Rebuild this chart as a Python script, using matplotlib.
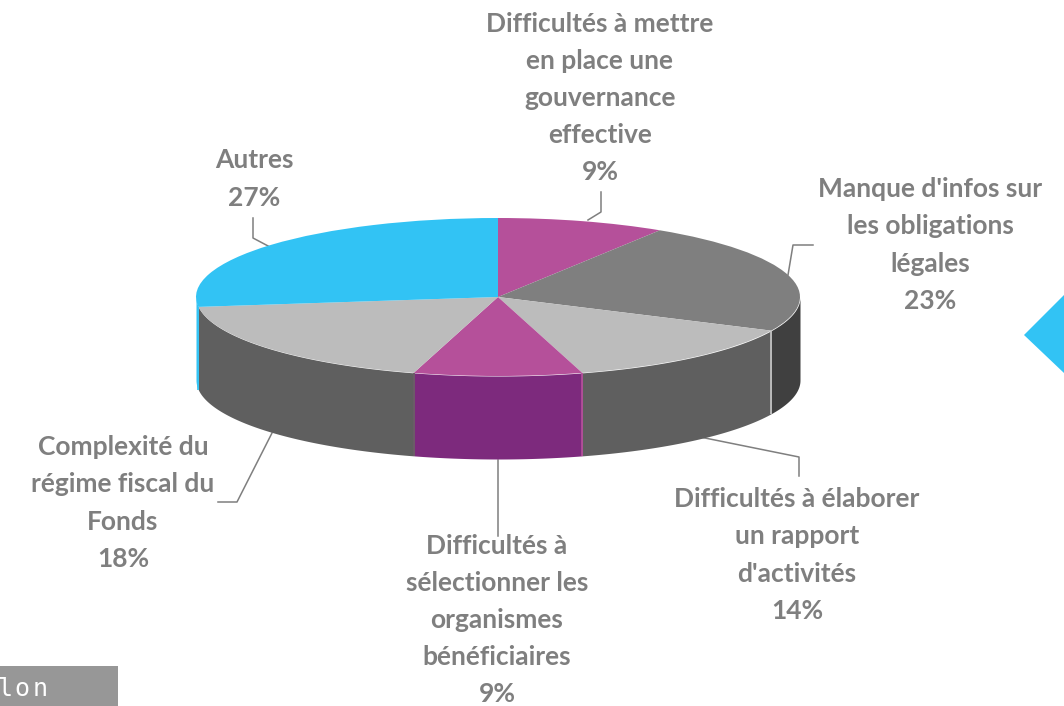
import numpy as np
import matplotlib
matplotlib.use("Agg")
import matplotlib.pyplot as plt

plt.rcParams['font.family'] = ['Lato', 'DejaVu Sans']

categories = ["Difficultés à mettre\nen place une\ngouvernance\neffective",
              "Manque d'infos sur\nles obligations\nlégales",
              "Difficultés à élaborer\nun rapport\nd'activités",
              "Difficultés à\nsélectionner les\norganismes\nbénéficiaires",
              "Complexité du\nrégime fiscal du\nFonds",
              "Autres"]
values = [9, 23, 13.5, 9, 18.5, 27]
pct_labels = ["9%", "23%", "14%", "9%", "18%", "27%"]
top_colors = ["#b5509a", "#7f7f7f", "#bcbcbc", "#b5509a", "#bcbcbc", "#32c3f4"]
side_colors = ["#7d2a7d", "#404040", "#5f5f5f", "#7d2a7d", "#5f5f5f", "#32c3f4"]
edge_colors = ["#b5509a", "#c8c8c8", "#c8c8c8", "#b5509a", "#5f5f5f", "#32c3f4"]

W, H = 1064, 706
label_pos = [(600, 98), (930, 245), (797, 555), (497, 620), (123, 503), (254, 179)]
leaders = [[(588, 220), (601, 212), (601, 192)],
           [(788, 275), (793, 245), (813, 245)],
           [(700, 437), (799, 457), (799, 476)],
           [(498, 460), (498, 536)],
           [(272, 433), (237, 502), (218, 502)],
           [(270, 247), (253, 238), (253, 218)]]

fig = plt.figure(figsize=(W / 100, H / 100), dpi=100)

# pixel axes for the text and lines
bg = fig.add_axes([0, 0, 1, 1])
bg.set_xlim(0, W)
bg.set_ylim(H, 0)
bg.axis('off')

cx, cy, rx, ry, depth = 498, 297, 302, 79, 83
top_px, bot_px = cy - ry, cy + ry + depth + 6
ax = fig.add_axes([(cx - rx) / W, 1 - bot_px / H, 2 * rx / W, (bot_px - top_px) / H])

# side walls first, pie on top
d = depth / ry
start = 0
for v, c, e in zip(values, side_colors, edge_colors):
    a0, a1 = start, start + v * 3.6
    start = a1
    lo, hi = max(a0, 90), min(a1, 270)
    if lo >= hi:
        continue
    t = np.radians(np.linspace(lo, hi, 80))
    x, y = np.sin(t), np.cos(t)
    ax.fill_between(x, y, y - d, color=c, lw=0)
    if a0 >= 90:
        ax.plot([x[0], x[0]], [y[0], y[0] - d], color=e, lw=1.2, solid_capstyle='butt')
    if c == "#7d2a7d":
        ax.plot([x[-1], x[-1]], [y[-1], y[-1] - d], color=e, lw=1.2, solid_capstyle='butt')

ax.pie(values, colors=top_colors, startangle=90, counterclock=False, radius=1)
ax.set_aspect('auto')
ax.set_xlim(-1, 1)
ax.set_ylim(-(bot_px - cy) / ry, 1)
ax.axis('off')

for pts in leaders:
    bg.plot([p[0] for p in pts], [p[1] for p in pts], color="#7f7f7f", lw=1.1)

for cat, p, (x, y) in zip(categories, pct_labels, label_pos):
    bg.text(x, y, cat + "\n" + p, ha='center', va='center', color="#7f7f7f",
            fontsize=19, fontweight='bold', linespacing=1.66, multialignment='center')

# cut off bits of the slide
bg.fill([1024, 1064, 1064], [335, 295, 373], color="#32c3f4", lw=0)
bg.fill([0, 118, 118, 0], [666, 666, 706, 706], color="#979797", lw=0)
for ch, x in zip("lon", [6, 22, 40]):
    bg.text(x, 696, ch, ha='center', va='baseline', color="white", family='DejaVu Sans Mono', fontsize=18)

fig.savefig("out.png", dpi=100)
